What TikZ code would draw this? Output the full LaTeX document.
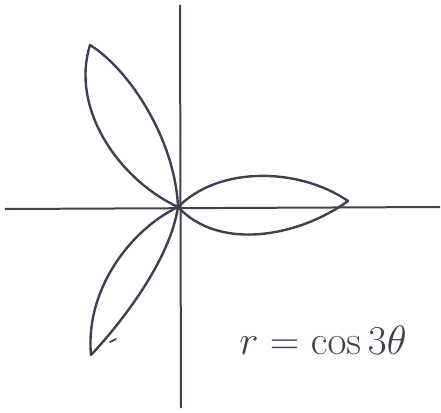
\documentclass[tikz,border=0pt]{standalone}
\begin{document}
\begin{tikzpicture}[x=1pt,y=-1pt,
  pen/.style={draw=black!85!blue!50!gray, line width=2.4pt, line join=round, line cap=round},
  axis/.style={draw=black!85!blue!50!gray, line width=2pt}]
\useasboundingbox (0,0) rectangle (441,412);
\coordinate (O) at (178,207);
\coordinate (tR) at (348,201);
\coordinate (tU) at (90,45);
\coordinate (tD) at (91,355);
% axes
\coordinate (yT) at (180,5);
\coordinate (yB) at (181,408);
\coordinate (xL) at (5,209);
\coordinate (xR) at (440,207);
\draw[axis] (yT) -- (yB);
\draw[axis] (xL) -- (xR);
% petals
\draw[pen] (O) .. controls (220,165) and (300,168) .. (tR) .. controls (300,236) and (220,252) .. (O);
\draw[pen] (O) .. controls (175,140) and (130,70) .. (tU) .. controls (70,110) and (120,180) .. (O);
\draw[pen] (O) .. controls (170,260) and (122,322) .. (tD) .. controls (85,290) and (130,230) .. (O);
% small stroke
\coordinate (s1) at (110,342);
\coordinate (s2) at (116,339);
\draw[pen, line width=1.8pt] (s1) -- (s2);
% label
\node[text=black!85!blue!50!gray, font=\fontsize{24.88}{30}\selectfont] (lbl) at (323,340) {\scalebox{1.65}{$r = \cos 3\theta$}};
\end{tikzpicture}
\end{document}
